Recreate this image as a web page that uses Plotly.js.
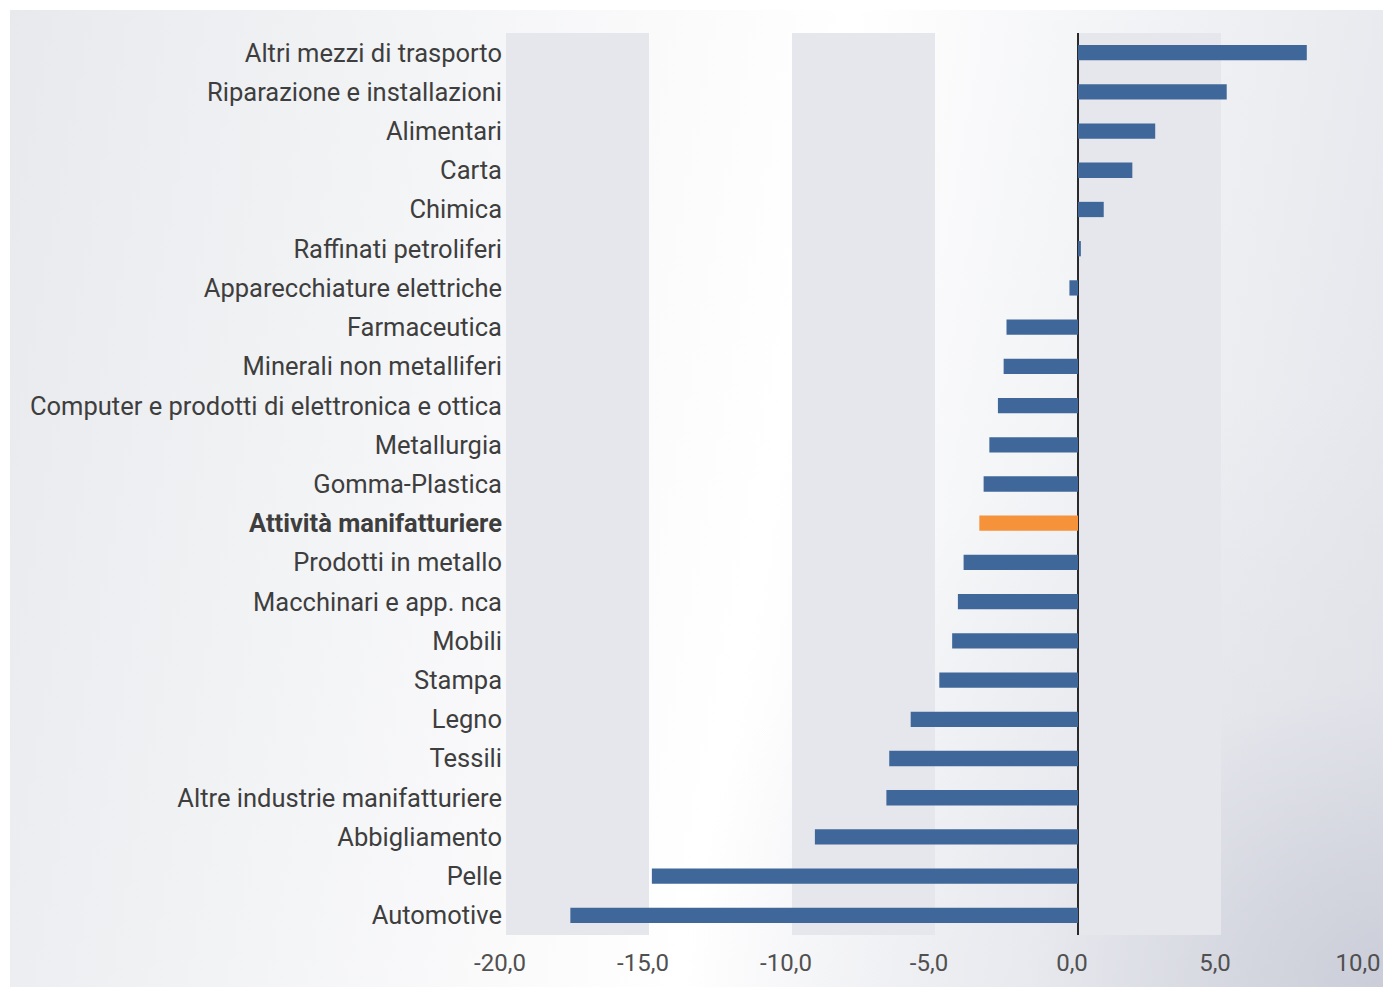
<!DOCTYPE html>
<html>
<head>
<meta charset="utf-8">
<script src="https://cdn.plot.ly/plotly-3.0.1.min.js"></script>
<style>
  html, body { margin: 0; padding: 0; background: #ffffff; }
  #wrap {
    position: absolute; left: 0; top: 0; width: 1383px; height: 987px;
    background:
      radial-gradient(ellipse 700px 600px at 1383px 987px, rgba(200,202,214,0.9) 0%, rgba(220,222,230,0.4) 50%, rgba(255,255,255,0) 100%),
      linear-gradient(100deg, #e8e9ed 0%, #f1f2f4 22%, #fbfbfc 45%, #ffffff 55%, #f1f2f5 75%, #e3e4ea 100%);
  }
  #frame { position: absolute; left: 0; top: 0; width: 1383px; height: 987px;
    border-top: 10px solid #fff; border-left: 10px solid #fff; box-sizing: border-box; pointer-events: none; }
  #chart { position: absolute; left: 0; top: 0; width: 1383px; height: 987px; }
</style>
</head>
<body>
<div id="wrap"></div>
<div id="chart"></div>
<div id="frame"></div>
<script>
const categories = [
  "Altri mezzi di trasporto",
  "Riparazione e installazioni",
  "Alimentari",
  "Carta",
  "Chimica",
  "Raffinati petroliferi",
  "Apparecchiature elettriche",
  "Farmaceutica",
  "Minerali non metalliferi",
  "Computer e prodotti di elettronica e ottica",
  "Metallurgia",
  "Gomma-Plastica",
  "Attività manifatturiere",
  "Prodotti in metallo",
  "Macchinari e app. nca",
  "Mobili",
  "Stampa",
  "Legno",
  "Tessili",
  "Altre industrie manifatturiere",
  "Abbigliamento",
  "Pelle",
  "Automotive"
];
const values = [8.0, 5.2, 2.7, 1.9, 0.9, 0.1, -0.3, -2.5, -2.6, -2.8, -3.1, -3.3, -3.45, -4.0, -4.2, -4.4, -4.85, -5.85, -6.6, -6.7, -9.2, -14.9, -17.75];
const highlight = "Attività manifatturiere";
const tickValuesX = [-20, -15, -10, -5, 0, 5, 10];
const tickTextX = ["-20,0", "-15,0", "-10,0", "-5,0", "0,0", "5,0", "10,0"];
const shadedBands = [[-20, -15], [-10, -5], [0, 5]];

const barColor = "#40679a";
const highlightColor = "#f5923a";

const colors = categories.map(c => c === highlight ? highlightColor : barColor);
const tickText = categories.map(c => c === highlight ? "<b>" + c + "</b>" : c);

const trace = {
  type: "bar",
  orientation: "h",
  x: values,
  y: categories,
  marker: { color: colors, line: { width: 0 } },
  hoverinfo: "x+y"
};

const shapes = shadedBands.map(b => ({
  type: "rect", xref: "x", yref: "paper", x0: b[0], x1: b[1], y0: 0, y1: 1,
  fillcolor: "#e6e7ec", opacity: 1, line: { width: 0 }, layer: "below"
}));

const layout = {
  width: 1383, height: 987,
  margin: { l: 506, r: 19, t: 33, b: 52 },
  paper_bgcolor: "rgba(0,0,0,0)",
  plot_bgcolor: "rgba(0,0,0,0)",
  showlegend: false,
  bargap: 0.61,
  font: { family: "Roboto, sans-serif", color: "#3e3e3e", size: 25 },
  xaxis: {
    range: [-20, 10],
    tickvals: tickValuesX,
    ticktext: tickTextX,
    showgrid: false,
    zeroline: true,
    zerolinecolor: "#2a2a2a",
    zerolinewidth: 1.5,
    showline: false,
    ticks: "",
    ticklabelstandoff: 11,
    ticklabelshift: -6,
    ticklabeloverflow: "allow",
    tickfont: { size: 24, color: "#505050" },
    fixedrange: true
  },
  yaxis: {
    type: "category",
    autorange: "reversed",
    tickvals: categories,
    ticktext: tickText,
    showgrid: false,
    zeroline: false,
    showline: false,
    ticks: "",
    ticklabelstandoff: 3,
    tickfont: { size: 25.5, color: "#3e3e3e" },
    fixedrange: true
  },
  shapes: shapes
};

Plotly.newPlot("chart", [trace], layout, { displayModeBar: false, staticPlot: true });
</script>
</body>
</html>
